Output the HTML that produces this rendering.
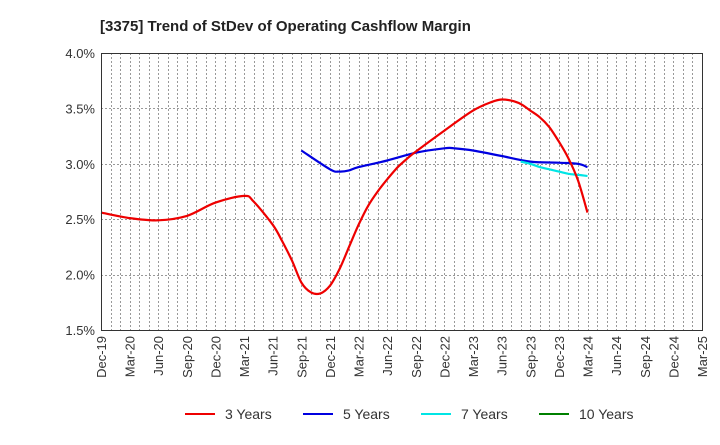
<!DOCTYPE html>
<html><head><meta charset="utf-8"><style>
body{margin:0;background:#fff;font-family:"Liberation Sans",sans-serif;}
svg text{font-family:"Liberation Sans",sans-serif;}
</style></head><body>
<svg id="c" width="720" height="440" xmlns="http://www.w3.org/2000/svg">
<text x="100" y="31" font-size="15" font-weight="bold" fill="#222">[3375]  Trend of StDev of Operating Cashflow Margin</text>
<g id="grid"></g><g id="series"></g><g id="axes"></g>
<g font-size="14" fill="#333">
<line x1="185" y1="414" x2="215" y2="414" stroke="#e00" stroke-width="2"/><text x="225" y="419">3 Years</text>
<line x1="303" y1="414" x2="333" y2="414" stroke="#0000e0" stroke-width="2"/><text x="343" y="419">5 Years</text>
<line x1="421" y1="414" x2="451" y2="414" stroke="#00e5e5" stroke-width="2"/><text x="461" y="419">7 Years</text>
<line x1="539" y1="414" x2="569" y2="414" stroke="#008000" stroke-width="2"/><text x="579" y="419">10 Years</text>
</g>
</svg>
<script>
const xLabels=["Dec-19","Mar-20","Jun-20","Sep-20","Dec-20","Mar-21","Jun-21","Sep-21","Dec-21","Mar-22","Jun-22","Sep-22","Dec-22","Mar-23","Jun-23","Sep-23","Dec-23","Mar-24","Jun-24","Sep-24","Dec-24","Mar-25"];
const yTicks=[1.5,2.0,2.5,3.0,3.5,4.0];
const s3idx=[0,3,6,9,12,15,16,18,19,20,21,22,23,24,25,26,27,28,29,30,31,32,33,36,39,41,42,43,44,45,46,47,48,49,50,51];
const s3val=[2.56,2.51,2.49,2.53,2.65,2.71,2.66,2.45,2.30,2.13,1.93,1.84,1.83,1.90,2.05,2.25,2.45,2.62,2.75,2.86,2.96,3.04,3.11,3.30,3.48,3.56,3.58,3.57,3.54,3.48,3.42,3.33,3.20,3.05,2.85,2.56];
const s5idx=[21,24,25,26,27,30,33,36,37,39,42,45,48,50,51];
const s5val=[3.12,2.95,2.93,2.94,2.97,3.03,3.10,3.14,3.14,3.12,3.07,3.02,3.01,3.00,2.97];
const s7idx=[44,45,46,47,48,49,50,51];
const s7val=[3.02,3.00,2.97,2.95,2.93,2.91,2.90,2.89];
const L=101,R=702,T=53,B=330,NM=63;
const X=i=>L+i*(R-L)/NM;
const Y=v=>B-(v-1.5)*(B-T)/2.5;
const NS="http://www.w3.org/2000/svg";
function mk(p,t,a){const e=document.createElementNS(NS,t);for(const k in a)e.setAttribute(k,a[k]);p.appendChild(e);return e;}
const g=document.getElementById('grid'),ax=document.getElementById('axes'),sg=document.getElementById('series');
for(let m=1;m<NM;m++){const xx=Math.round(X(m))+0.5;const l=mk(g,'line',{x1:xx,x2:xx,y1:T,y2:B,stroke:'#999','stroke-dasharray':'2,2','stroke-width':1});

}
yTicks.forEach(v=>{const yy=Math.round(Y(v))+0.5;const l=mk(g,'line',{x1:L,x2:R,y1:yy,y2:yy,stroke:'#999','stroke-dasharray':'2,2','stroke-width':1});


const t=mk(ax,'text',{x:L-6,y:Y(v)+5,'text-anchor':'end','font-size':13,fill:'#333'});t.textContent=v.toFixed(1)+'%';

});
const fr=mk(ax,'rect',{x:L+0.5,y:T+0.5,width:R-L,height:B-T,fill:'none',stroke:'#333','stroke-width':1});


xLabels.forEach((s,i)=>{const x=X(i*3);const t=mk(ax,'text',{x:x+5,y:B+6,'text-anchor':'end','font-size':13,fill:'#333',transform:`rotate(-90 ${x+5} ${B+6})`});t.textContent=s;

});
function line(idx,val,c,n){const P=idx.map((i,k)=>[X(i),Y(val[k])]);
let d='M'+P[0][0].toFixed(1)+','+P[0][1].toFixed(1);
for(let k=0;k<P.length-1;k++){const p0=P[k-1]||P[k],p1=P[k],p2=P[k+1],p3=P[k+2]||P[k+1];
const c1=[p1[0]+(p2[0]-p0[0])/6,p1[1]+(p2[1]-p0[1])/6],c2=[p2[0]-(p3[0]-p1[0])/6,p2[1]-(p3[1]-p1[1])/6];
d+='C'+c1.map(v=>v.toFixed(1)).join(',')+' '+c2.map(v=>v.toFixed(1)).join(',')+' '+p2.map(v=>v.toFixed(1)).join(',');}
const p=mk(sg,'path',{d:d,fill:'none',stroke:c,'stroke-width':2.2,'stroke-linejoin':'round'});

}
line(s5idx,s5val,'#0000e0','series-5-years');
line(s7idx,s7val,'#00e5e5','series-7-years');
line(s3idx,s3val,'#e00','series-3-years');
</script>
</body></html>
